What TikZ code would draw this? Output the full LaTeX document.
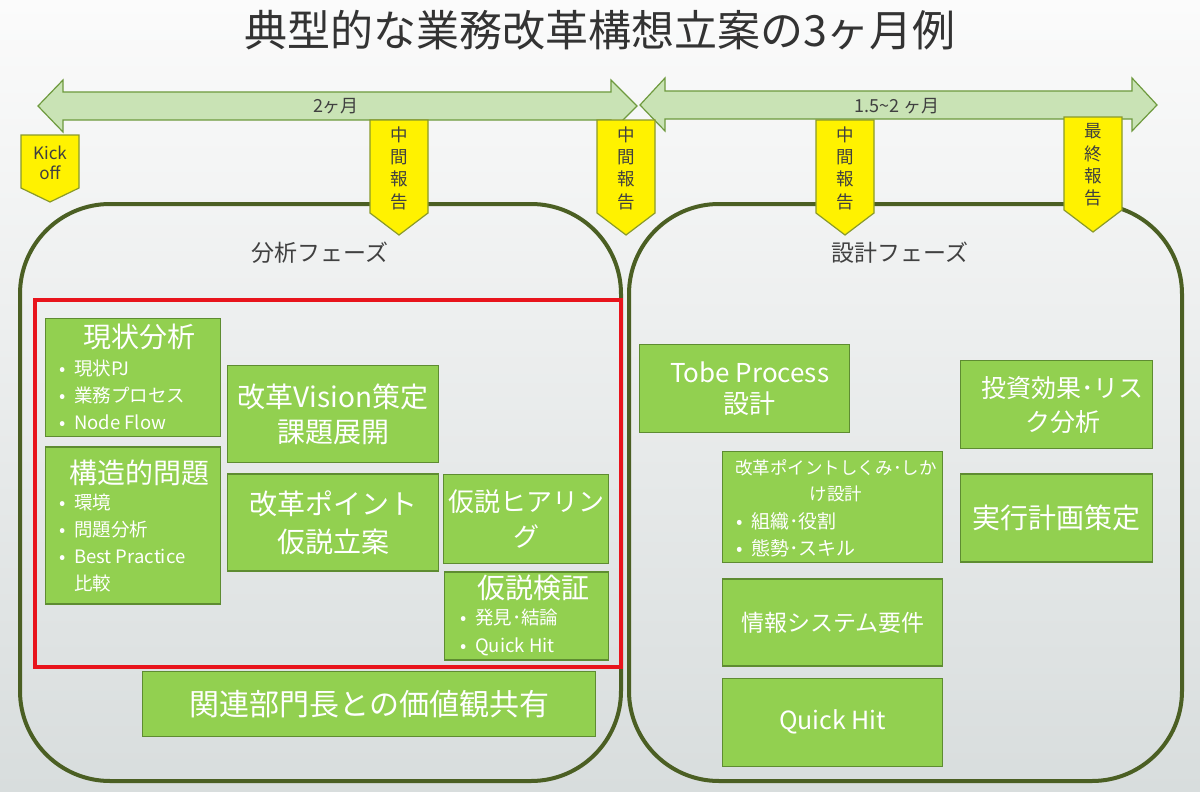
\documentclass[tikz,border=0pt]{standalone}
\usepackage{fontspec}
\setmainfont{Noto Sans CJK JP}
\usetikzlibrary{positioning}
\definecolor{leafgreen}{HTML}{92D050}
\definecolor{leafline}{HTML}{5E8C31}
\definecolor{phaseline}{HTML}{4B5F23}
\definecolor{spanfill}{HTML}{C9E3B5}
\definecolor{spanline}{HTML}{6E9A3E}
\definecolor{markline}{HTML}{8A9A2A}
\definecolor{framered}{HTML}{E8141C}
\definecolor{inktext}{HTML}{404040}
\definecolor{bgtop}{HTML}{FBFBFB}
\definecolor{bgbot}{HTML}{D8DDDD}
\newcommand\Bul{\makebox[15pt][l]{•}}
\newcommand\Fs[2]{\fontsize{#1}{#2}\selectfont}

\begin{document}
\begin{tikzpicture}[x=1pt, y=-1pt,
phase_n/.style = {draw=phaseline, line width=4pt, rounded corners=90pt, inner sep=0pt, anchor=north west},
phase_t/.style = {text=inktext, inner sep=0pt, font=\Fs{23}{28}},
frame_r/.style = {draw=framered, line width=3.5pt, inner sep=0pt, anchor=north west},
task_n/.style = {draw=leafline, line width=1.3pt, fill=leafgreen, inner sep=0pt, text=white, align=center},
title_t/.style = {text=white, inner sep=0pt, align=center, font=\Fs{28}{34}},
list_t/.style = {text=white, inner sep=0pt, align=left, anchor=west, font=\Fs{18.5}{26.7}},
mark_n/.style = {draw=markline, line width=1.2pt, fill=yellow},
mark_t/.style = {text=inktext, inner sep=0pt, align=center, font=\Fs{17.5}{22.3}},
span_n/.style = {draw=spanline, line width=1.2pt, fill=spanfill},
span_t/.style = {text=inktext, inner sep=0pt, font=\Fs{18}{22}}
]
\useasboundingbox (0,0) rectangle (1200,792);
\shade[top color=bgtop, bottom color=bgbot] (0,0) rectangle (1200,792);

\node (title) [text=inktext!80!black, font=\Fs{43}{50}] at (600,30) {典型的な業務改革構想立案の3ヶ月例};

% period arrows
\draw[span_n] (38,106) -- (63,80) -- (63,92) -- (611,92) -- (611,80) -- (637,106)
  -- (611,132) -- (611,120) -- (63,120) -- (63,132) -- cycle;
\draw[span_n] (640,105) -- (665,78) -- (665,91) -- (1132,91) -- (1132,78) -- (1157,105)
  -- (1132,131) -- (1132,119) -- (665,119) -- (665,131) -- cycle;
\node (span1_t) [span_t] at (336,106) {2ヶ月};
\node (span2_t) [span_t] at (897,106) {1.5\textasciitilde2 ヶ月};

% phases
\node (bunseki) [phase_n, minimum width=601pt, minimum height=577pt] at (18,202) {};
\node (bunseki_t) [phase_t] at (320,253) {分析フェーズ};
\node (sekkei) [phase_n, minimum width=553pt, minimum height=577pt] at (627,202) {};
\node (sekkei_t) [phase_t] at (900,253) {設計フェーズ};

% milestones
\draw[mark_n] (21,135) -- (79,135) -- (79,188) -- (50,202) -- (21,188) -- cycle;
\node (kickoff) [mark_t, font=\Fs{17}{20}] at (50,163) {Kick\\off};
\foreach \i/\x in {1/399, 2/626, 3/845}{
  \draw[mark_n] (\x-29,120) -- (\x+29,120) -- (\x+29,213) -- (\x,235) -- (\x-29,213) -- cycle;
  \node (chukan\i) [mark_t] at (\x,168) {中\\間\\報\\告};
}
\draw[mark_n] (1064,117) -- (1122,117) -- (1122,210) -- (1093,232) -- (1064,210) -- cycle;
\node (saishu) [mark_t] at (1093,165) {最\\終\\報\\告};

% analysis tasks
\node (scope) [frame_r, minimum width=586pt, minimum height=367pt] at (33,298) {};

\node (genjou) [task_n, minimum width=175pt, minimum height=118pt, anchor=north west] at (45,318) {};
\node (genjou_t) [title_t] at (139,337) {現状分析};
\node (genjou_l) [list_t] at (59,395) {\Bul 現状PJ\\\Bul 業務プロセス\\\Bul Node Flow};

\node (kozo) [task_n, minimum width=175pt, minimum height=157pt, below=9pt of genjou] {};
\node (kozo_t) [title_t] at (139,473) {構造的問題};
\node (kozo_l) [list_t] at (59,543) {\Bul 環境\\\Bul 問題分析\\\Bul Best Practice\\\hspace*{15pt}比較};

\node (vision) [task_n, minimum width=211pt, minimum height=97pt, anchor=north west, font=\Fs{28}{35}] at (227,365) {改革Vision策定\\課題展開};
\node (point) [task_n, minimum width=211pt, minimum height=97pt, below=10pt of vision, font=\Fs{28}{38}] {改革ポイント\\仮説立案};
\node (hearing) [task_n, minimum width=165pt, minimum height=89pt, anchor=north west, font=\Fs{26}{35}] at (443,474) {仮説ヒアリン\\グ};
\node (kensho) [task_n, minimum width=164pt, minimum height=88pt, below=7pt of hearing] {};
\node (kensho_t) [title_t] at (533,588) {仮説検証};
\node (kensho_l) [list_t, font=\Fs{18.5}{28}] at (460,632) {\Bul 発見･結論\\\Bul Quick Hit};

\node (kanren) [task_n, minimum width=453pt, minimum height=65pt, anchor=north west, font=\Fs{30}{36}] at (142,671) {関連部門長との価値観共有};

% design tasks
\node (tobe) [task_n, minimum width=210pt, minimum height=88pt, anchor=north west, font=\Fs{26}{31}] at (639,344) {\hspace*{10pt}Tobe Process\\\hspace*{10pt}設計};
\node (shikumi) [task_n, minimum width=220pt, minimum height=111pt, anchor=north west] at (722,451) {};
\node (shikumi_t) [title_t, font=\Fs{17.5}{26}] at (836,481) {改革ポイントしくみ･しか\\け設計};
\node (shikumi_l) [list_t, font=\Fs{19}{27}] at (736,535) {\Bul 組織･役割\\\Bul 態勢･スキル};
\node (joho) [task_n, minimum width=220pt, minimum height=87pt, below=15pt of shikumi, font=\Fs{23}{28}] {情報システム要件};
\node (quick) [task_n, minimum width=220pt, minimum height=88pt, below=11pt of joho, font=\Fs{25}{30}] {Quick Hit};
\node (toshi) [task_n, minimum width=192pt, minimum height=88pt, anchor=north west, font=\Fs{25}{34}] at (960,360) {\hspace*{12pt}投資効果･リス\\\hspace*{12pt}ク分析};
\node (jikko) [task_n, minimum width=192pt, minimum height=88pt, below=24pt of toshi, font=\Fs{28}{34}] {実行計画策定};
\end{tikzpicture}
\end{document}
